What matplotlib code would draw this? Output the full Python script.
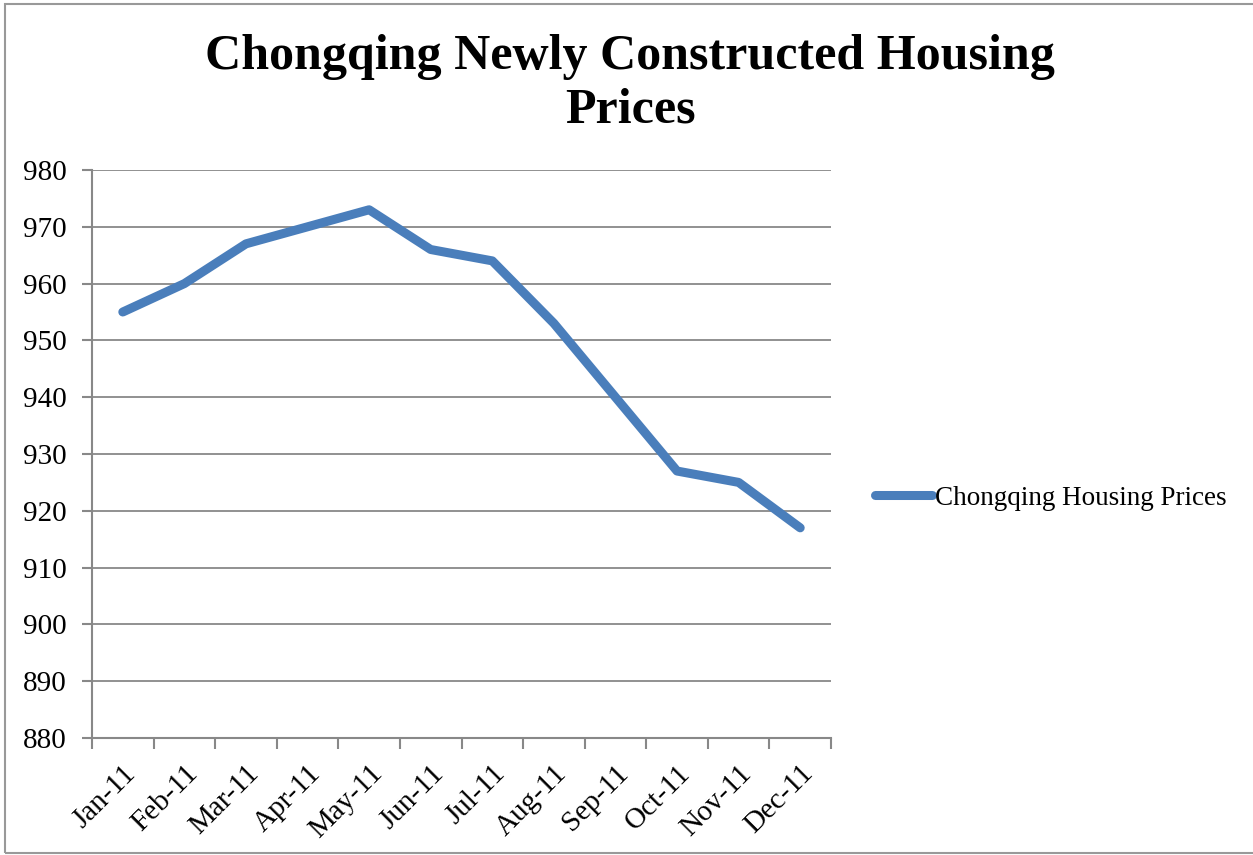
import numpy as np
import matplotlib.pyplot as plt
from matplotlib.patches import Rectangle

# data
months = ['Jan-11', 'Feb-11', 'Mar-11', 'Apr-11', 'May-11', 'Jun-11',
          'Jul-11', 'Aug-11', 'Sep-11', 'Oct-11', 'Nov-11', 'Dec-11']
prices = [955, 960, 967, 970, 973, 966, 964, 953, 940, 927, 925, 917]
yticks = [880, 890, 900, 910, 920, 930, 940, 950, 960, 970, 980]

plt.rcParams['font.family'] = ['Liberation Serif', 'DejaVu Serif']

fig = plt.figure(figsize=(12.53, 8.55), dpi=100)

# outer chart border
fig.patches.append(Rectangle((5/1253, 2/855), 1.1, 849/855, transform=fig.transFigure,
                             fill=False, edgecolor='#999999', lw=1.5))

ax = fig.add_axes([92/1253, 1 - 738/855, (831 - 92)/1253, (738 - 170)/855])
x = np.arange(len(months))
ax.plot(x, prices, color='#4a7ebb', lw=6.5, solid_capstyle='round',
        solid_joinstyle='round', label='Chongqing Housing Prices')

ax.set_xlim(-0.5, len(months) - 0.5)
ax.set_ylim(880, 980)
ax.set_yticks(yticks)
ax.set_xticks(x)
ax.set_xticklabels(months, rotation=45, ha='right', rotation_mode='anchor')
ax.set_xticks(np.arange(-0.5, len(months)), minor=True)
ax.tick_params(axis='x', which='major', length=0, labelsize=21, pad=16)
ax.tick_params(axis='x', which='minor', length=8, width=1.5, color='#888888')
ax.tick_params(axis='y', length=7, width=1.5, color='#888888', labelsize=21, pad=11)

ax.grid(axis='y', color='#888888', lw=1.3)
ax.set_axisbelow(True)
for s in ['top', 'right']:
    ax.spines[s].set_visible(False)
for s in ['left', 'bottom']:
    ax.spines[s].set_color('#888888')
    ax.spines[s].set_linewidth(1.5)

fig.text(630/1253, 1 - 84/855, 'Chongqing Newly Constructed Housing\nPrices',
         ha='center', va='center', fontsize=36, fontweight='bold', linespacing=1.2)

ax.legend(loc='center left', bbox_to_anchor=(1.045, 0.5 - (498 - 454)/568),
          frameon=False, fontsize=19.5, handlelength=2.1, handletextpad=0.1,
          borderaxespad=0)

fig.savefig('out.png', dpi=100)
